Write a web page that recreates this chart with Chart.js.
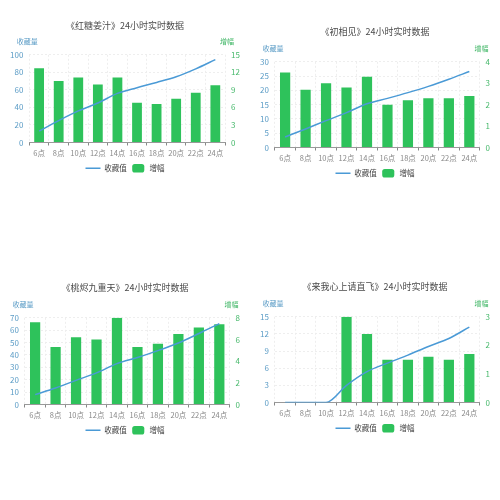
<!DOCTYPE html>
<html>
<head>
<meta charset="utf-8">
<script src="https://cdn.jsdelivr.net/npm/chart.js@4.4.1/dist/chart.umd.min.js"></script>
<style>
  html, body { margin: 0; padding: 0; background: #fff; }
  body { width: 500px; height: 500px; position: relative; overflow: hidden; }
  .box { position: absolute; }
</style>
</head>
<body>
<div class="box" id="b1"><canvas id="c1"></canvas></div>
<div class="box" id="b2"><canvas id="c2"></canvas></div>
<div class="box" id="b3"><canvas id="c3"></canvas></div>
<div class="box" id="b4"><canvas id="c4"></canvas></div>
<script>
// data
const hours = ['6点', '8点', '10点', '12点', '14点', '16点', '18点', '20点', '22点', '24点'];
const titles = [
  '《红糖姜汁》24小时实时数据',
  '《初相见》24小时实时数据',
  '《桃烬九重天》24小时实时数据',
  '《来我心上请直飞》24小时实时数据'
];
const favLabel = '收藏值';
const incLabel = '增幅';
const leftName = '收藏量';
const rightName = '增幅';

const fav1 = [13, 25, 36, 45, 56, 62.5, 68.5, 75, 84, 94.5];
const inc1 = [12.7, 10.5, 11.1, 9.9, 11.1, 6.8, 6.6, 7.5, 8.5, 9.8];
const fav2 = [3.7, 6.5, 9.4, 12.2, 15.3, 17.2, 19.2, 21.4, 23.9, 26.6];
const inc2 = [3.5, 2.7, 3.0, 2.8, 3.3, 2.0, 2.2, 2.3, 2.3, 2.4];
const fav3 = [8, 13.3, 19.5, 25.5, 33, 38, 43.5, 49.7, 57.3, 65.3];
const inc3 = [7.6, 5.3, 6.2, 6.0, 8.0, 5.3, 5.6, 6.5, 7.1, 7.4];
const fav4 = [0, 0, 0, 3, 5.4, 6.9, 8.3, 9.8, 11.2, 13.2];
const inc4 = [0, 0, 0, 3.0, 2.4, 1.5, 1.5, 1.6, 1.5, 1.7];

// axis ranges [max, step] left / right
const leftAxes = [[100, 20], [30, 5], [70, 10], [15, 3]];
const rightAxes = [[15, 3], [4, 1], [8, 2], [3, 1]];

const favSets = [fav1, fav2, fav3, fav4];
const incSets = [inc1, inc2, inc3, inc4];

// layout of each chart on the page
const boxes = [
  { left: 0, top: 20, width: 250, height: 162, titleGap: 24 },
  { left: 250, top: 26, width: 250, height: 161, titleGap: 25 },
  { left: 0, top: 282, width: 250, height: 162, titleGap: 25 },
  { left: 250, top: 281, width: 250, height: 161, titleGap: 25 }
];

const FONT = '"Noto Sans CJK SC", "Noto Sans", sans-serif';
const BLUE = '#4a9ad6';
const GREEN = '#2ec25b';
const LEFT_TXT = '#5b9cc6';
const RIGHT_TXT = '#45b86a';

// draws the two axis names above the y axes
const axisNames = {
  id: 'axisNames',
  afterDraw(chart) {
    const { ctx, chartArea } = chart;
    ctx.save();
    ctx.font = '7px ' + FONT;
    ctx.textAlign = 'center';
    ctx.textBaseline = 'middle';
    ctx.fillStyle = LEFT_TXT;
    ctx.fillText(leftName, chartArea.left - 2, chartArea.top - 13);
    ctx.fillStyle = RIGHT_TXT;
    ctx.fillText(rightName, chartArea.right + 2, chartArea.top - 13);
    ctx.restore();
  }
};

function makeChart(i) {
  const b = boxes[i];
  const el = document.getElementById('b' + (i + 1));
  el.style.left = b.left + 'px';
  el.style.top = b.top + 'px';
  el.style.width = b.width + 'px';
  el.style.height = b.height + 'px';

  const ctx = document.getElementById('c' + (i + 1)).getContext('2d');
  return new Chart(ctx, {
    type: 'bar',
    data: {
      labels: hours,
      datasets: [
        {
          type: 'line',
          label: favLabel,
          data: favSets[i],
          yAxisID: 'y',
          borderColor: BLUE,
          backgroundColor: BLUE,
          borderWidth: 1.5,
          pointRadius: 0,
          cubicInterpolationMode: 'monotone',
          pointStyle: 'line',
          order: 0
        },
        {
          type: 'bar',
          label: incLabel,
          data: incSets[i],
          yAxisID: 'y1',
          backgroundColor: GREEN,
          borderWidth: 0,
          categoryPercentage: 1,
          barPercentage: 0.5,
          pointStyle: 'rectRounded',
          order: 1
        }
      ]
    },
    options: {
      responsive: true,
      maintainAspectRatio: false,
      animation: false,
      layout: { padding: { left: 4, right: 4, top: 0, bottom: 0 } },
      plugins: {
        title: {
          display: true,
          text: titles[i],
          color: '#4a4a4a',
          font: { family: FONT, size: 9, weight: 'normal' },
          padding: { top: 0, bottom: b.titleGap }
        },
        legend: {
          position: 'bottom',
          labels: {
            usePointStyle: true,
            pointStyleWidth: 15,
            boxHeight: 7,
            color: '#444',
            font: { family: FONT, size: 7.5 },
            padding: 4
          }
        },
        tooltip: { enabled: false }
      },
      scales: {
        x: {
          grid: {
            color: '#eeeeee',
            tickColor: '#888',
            tickLength: 3
          },
          border: { color: '#999', dash: [2, 2] },
          ticks: {
            color: '#888',
            font: { family: FONT, size: 7.5 },
            padding: 3,
            maxRotation: 0,
            autoSkip: false
          }
        },
        y: {
          position: 'left',
          min: 0,
          max: leftAxes[i][0],
          grid: { color: '#eeeeee', drawTicks: false },
          border: { display: false, dash: [2, 2] },
          ticks: {
            stepSize: leftAxes[i][1],
            autoSkip: false,
            color: LEFT_TXT,
            font: { family: FONT, size: 8 },
            padding: 6
          }
        },
        y1: {
          position: 'right',
          min: 0,
          max: rightAxes[i][0],
          grid: { drawOnChartArea: false, drawTicks: false },
          border: { display: false },
          ticks: {
            stepSize: rightAxes[i][1],
            autoSkip: false,
            color: RIGHT_TXT,
            font: { family: FONT, size: 8 },
            padding: 6
          }
        }
      }
    },
    plugins: [axisNames]
  });
}

for (let i = 0; i < 4; i++) makeChart(i);
</script>
</body>
</html>
